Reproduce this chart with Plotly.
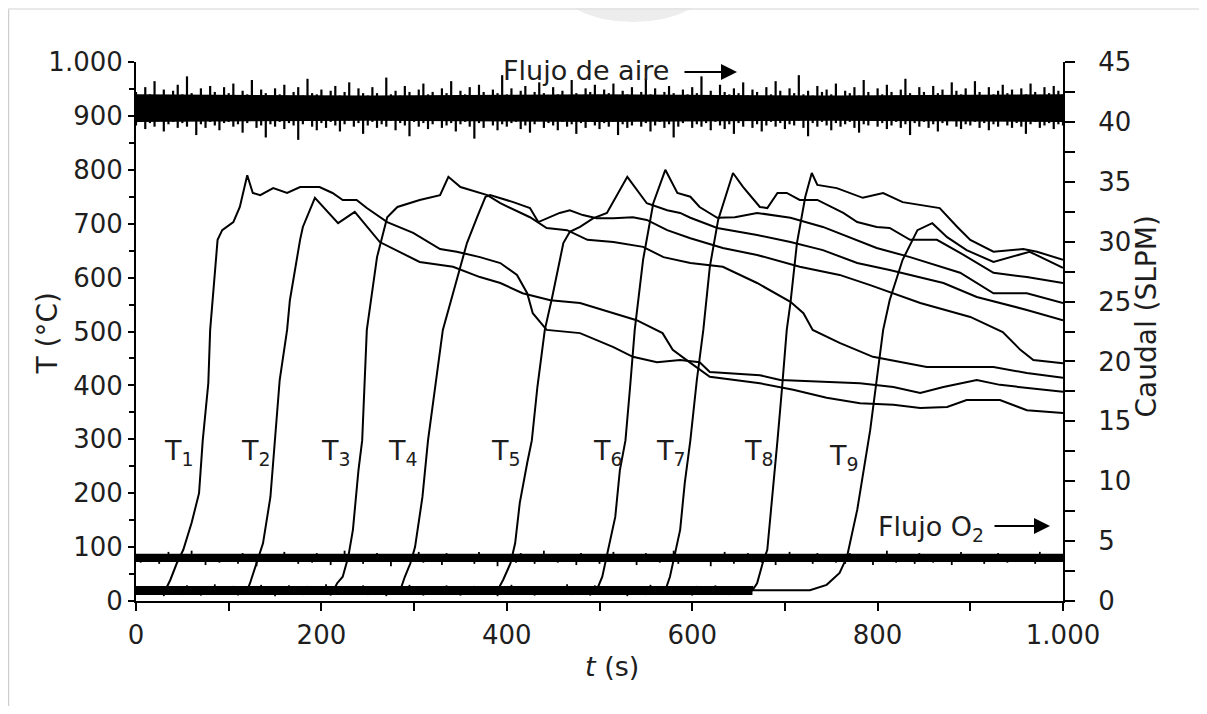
import plotly.graph_objects as go

# ---------------- data ----------------
# temperature curves (t in s, T in degC)
T1_t = [0, 30, 33, 37, 44, 51, 60, 68, 72, 78, 80, 84, 88, 93, 105, 112, 120, 126, 134, 148,
        163, 177, 198, 212, 223, 238, 249, 271, 299, 328, 346, 371, 393, 411, 422, 428, 443, 479, 515, 536,
        562, 587, 608, 619, 673, 695, 745, 781, 817, 846, 871, 907, 932, 1000]
T1_v = [20, 20, 25, 39, 70, 95, 145, 200, 298, 404, 503, 595, 670, 688, 703, 731, 790, 757, 753, 766,
        757, 768, 768, 757, 744, 744, 729, 703, 683, 653, 648, 638, 627, 605, 571, 534, 503, 497, 471, 453,
        443, 447, 443, 425, 419, 410, 406, 404, 397, 386, 397, 410, 401, 388]

T2_t = [0, 120, 123, 130, 137, 145, 150, 155, 163, 166, 177, 180, 193, 218, 236, 263, 306, 342, 371, 393,
        417, 447, 479, 515, 540, 568, 579, 594, 619, 673, 709, 745, 781, 817, 846, 875, 896, 932, 961, 1000]
T2_v = [20, 20, 33, 70, 107, 193, 298, 410, 503, 558, 670, 694, 748, 701, 722, 666, 629, 620, 601, 590,
        571, 558, 553, 534, 521, 497, 466, 447, 416, 404, 392, 377, 367, 364, 358, 360, 373, 373, 354, 349]

T3_t = [0, 213, 217, 223, 229, 234, 240, 244, 249, 260, 271, 282, 306, 328, 337, 350, 379, 393, 425, 443,
        465, 487, 515, 547, 569, 598, 633, 670, 706, 720, 730, 759, 795, 853, 925, 961, 1000]
T3_v = [20, 20, 33, 45, 82, 132, 243, 298, 503, 638, 712, 731, 744, 753, 787, 768, 753, 738, 712, 692,
        688, 670, 666, 657, 638, 627, 620, 590, 555, 534, 503, 479, 453, 434, 434, 423, 414]

T4_t = [0, 285, 290, 296, 301, 309, 315, 323, 327, 331, 342, 357, 368, 377, 382, 407, 425, 434, 457, 468,
        482, 497, 515, 536, 551, 573, 598, 633, 670, 716, 759, 792, 846, 900, 935, 954, 968, 1000]
T4_v = [20, 20, 45, 70, 100, 193, 298, 397, 447, 503, 571, 664, 712, 750, 753, 740, 729, 703, 720, 725,
        716, 710, 710, 712, 707, 688, 673, 655, 642, 620, 605, 586, 553, 527, 499, 466, 447, 441]

T5_t = [0, 390, 396, 404, 409, 414, 422, 427, 433, 441, 449, 461, 468, 479, 493, 508, 530, 551, 573, 587,
        598, 627, 670, 706, 741, 778, 813, 871, 907, 961, 1000]
T5_v = [20, 20, 39, 70, 107, 182, 256, 298, 397, 503, 564, 664, 685, 694, 710, 720, 787, 738, 725, 720,
        711, 692, 679, 666, 651, 627, 614, 590, 564, 540, 521]

T6_t = [0, 497, 503, 509, 517, 522, 528, 533, 538, 547, 558, 571, 584, 598, 608, 627, 646, 670, 706, 741,
        770, 799, 835, 889, 925, 961, 1000]
T6_v = [20, 20, 45, 91, 156, 243, 298, 397, 503, 633, 738, 800, 757, 750, 731, 711, 712, 720, 711, 694,
        675, 655, 638, 609, 571, 571, 553]

T7_t = [0, 571, 576, 581, 587, 592, 598, 605, 612, 619, 628, 644, 655, 673, 681, 692, 702, 716, 735, 763,
        778, 799, 813, 835, 864, 889, 925, 961, 1000]
T7_v = [20, 20, 45, 82, 132, 219, 298, 410, 503, 620, 707, 794, 768, 731, 729, 757, 757, 744, 744, 720,
        703, 694, 692, 670, 670, 646, 609, 601, 590]

T8_t = [0, 665, 670, 676, 681, 686, 692, 697, 702, 706, 713, 722, 729, 735, 756, 784, 806, 827, 867, 886,
        900, 925, 957, 972, 1000]
T8_v = [20, 20, 33, 70, 95, 182, 298, 397, 503, 553, 664, 750, 794, 772, 766, 748, 757, 740, 729, 694,
        670, 648, 653, 648, 633]

T9_t = [0, 727, 745, 759, 767, 778, 792, 806, 813, 827, 843, 859, 875, 896, 925, 943, 964, 1000]
T9_v = [20, 20, 30, 52, 82, 169, 317, 503, 558, 633, 688, 701, 675, 651, 629, 638, 648, 618]

curve_names = ["1", "2", "3", "4", "5", "6", "7", "8", "9"]
label_t = [28, 111, 197, 270, 381, 491, 559, 654, 745]      # left edge of each "T" label
label_T = [312, 312, 312, 312, 312, 312, 312, 312, 303]    # top of each "T" label

# flows (SLPM), readings every 5 s: highest and lowest reading of each 5 s window
flow_t = list(range(0, 1001, 5))
air_top = [42.5, 42.1, 42.9, 42.3, 43.4, 42.2, 42.7, 42.0, 42.6, 43.1,
           42.3, 43.8, 42.4, 42.1, 42.8, 42.2, 43.0, 42.5, 42.0, 42.9,
           42.4, 43.2, 42.1, 42.6, 42.3, 43.5, 42.2, 42.7, 42.4, 42.0,
           42.8, 42.3, 43.1, 42.1, 42.5, 42.9, 42.2, 43.6, 42.4, 42.3,
           42.7, 42.0, 42.6, 43.0, 42.2, 42.5, 43.3, 42.1, 42.8, 42.4,
           42.2, 42.9, 42.4, 42.1, 43.7, 42.3, 42.6, 42.2, 43.0, 42.5,
           42.1, 42.7, 43.2, 42.3, 42.5, 42.0, 42.8, 42.4, 43.4, 42.2,
           42.6, 42.3, 42.9, 42.1, 43.1, 42.5, 42.2, 42.7, 42.4, 43.9,
           42.3, 42.8, 42.1, 42.6, 43.0, 42.2, 42.5, 43.3, 42.4, 42.1,
           42.9, 42.3, 42.6, 42.0, 43.5, 42.4, 42.2, 42.8, 42.5, 43.1,
           42.2, 42.7, 42.4, 43.2, 42.1, 42.6, 42.3, 42.9, 42.0, 42.5,
           43.6, 42.3, 42.8, 42.2, 42.5, 43.0, 42.4, 42.1, 42.7, 42.3,
           42.9, 42.4, 43.8, 42.2, 42.6, 42.1, 43.1, 42.5, 42.3, 42.8,
           42.4, 43.3, 42.2, 42.7, 42.5, 42.0, 42.9, 42.3, 43.4, 42.6,
           42.1, 42.8, 42.4, 43.9, 42.3, 42.6, 42.2, 43.0, 42.5, 42.7,
           42.3, 43.2, 42.1, 42.6, 42.4, 42.9, 42.2, 43.5, 42.5, 42.0,
           42.8, 42.3, 43.1, 42.5, 42.2, 42.7, 43.6, 42.4, 42.1, 42.9,
           42.5, 42.2, 43.0, 42.4, 42.7, 42.1, 43.3, 42.6, 42.3, 42.8,
           42.2, 43.4, 42.5, 42.1, 42.9, 42.3, 42.6, 43.1, 42.4, 42.7,
           42.0, 42.8, 42.3, 43.2, 42.5, 42.2, 42.9, 42.4, 43.0, 42.6,
           42.3]
air_bot = [39.7, 40.0, 39.4, 39.9, 39.6, 40.1, 39.2, 39.8, 40.0, 39.5,
           39.9, 39.6, 40.1, 38.9, 39.8, 39.5, 40.0, 39.7, 39.3, 39.9,
           40.0, 39.6, 39.8, 39.1, 39.9, 40.1, 39.5, 39.7, 38.7, 39.8,
           39.6, 40.0, 39.4, 39.9, 39.7, 38.5, 39.8, 40.1, 39.6, 39.3,
           39.9, 39.5, 40.0, 39.7, 39.2, 39.8, 40.1, 39.6, 39.9, 39.0,
           39.7, 40.0, 39.5, 39.8, 39.6, 40.1, 39.3, 39.9, 39.7, 38.8,
           40.0, 39.6, 39.9, 39.4, 39.8, 40.1, 39.5, 39.7, 39.9, 39.2,
           39.8, 40.0, 39.6, 38.6, 39.9, 39.5, 40.1, 39.7, 39.3, 39.8,
           39.6, 39.9, 40.0, 39.4, 39.7, 39.1, 39.8, 40.1, 39.5, 39.9,
           39.7, 39.3, 40.0, 39.6, 39.8, 39.0, 39.9, 39.5, 40.1, 39.7,
           39.4, 39.9, 39.6, 40.0, 38.9, 39.8, 39.5, 39.7, 40.1, 39.6,
           39.9, 39.2, 39.7, 40.0, 39.5, 39.8, 38.7, 39.6, 39.9, 40.1,
           39.5, 39.8, 39.6, 39.9, 39.3, 40.0, 39.7, 39.4, 39.8, 39.0,
           39.9, 39.6, 40.1, 39.5, 39.8, 39.2, 39.7, 40.0, 39.6, 39.9,
           39.4, 39.8, 39.7, 40.1, 39.5, 38.8, 39.9, 39.6, 40.0, 39.7,
           39.3, 39.9, 39.6, 39.8, 40.0, 39.5, 39.1, 39.8, 39.7, 40.1,
           39.6, 39.9, 39.4, 39.7, 40.0, 39.5, 39.8, 38.9, 39.9, 39.6,
           40.0, 39.5, 39.8, 39.2, 39.9, 39.7, 40.1, 39.6, 39.4, 39.8,
           39.7, 40.0, 39.5, 39.9, 39.3, 39.8, 39.6, 40.1, 39.7, 39.5,
           39.9, 39.6, 39.0, 39.8, 40.0, 39.5, 39.7, 39.9, 39.4, 39.8,
           39.7]
o2_mid = 3.6
o2_flow = [3.7, 3.2, 3.9, 3.4, 3.8, 3.1, 3.6, 4.1, 3.5, 3.3,
           3.9, 3.4, 4.2, 3.5, 3.7, 3.0, 3.8, 3.6, 3.2, 3.9,
           3.5, 3.8, 3.1, 4.0, 3.4, 3.7, 2.9, 3.9, 3.6, 3.3,
           3.8, 3.5, 4.1, 3.4, 3.6, 3.1, 3.9, 3.7, 3.2, 4.0,
           3.4, 3.8, 3.0, 3.7, 3.5, 4.2, 3.3, 3.6, 3.9, 3.1,
           3.7, 3.4, 4.0, 3.5, 3.8, 2.9, 3.6, 3.9, 3.3, 3.7,
           3.5, 4.1, 3.2, 3.8, 3.4, 3.7, 3.0, 4.0, 3.6, 3.3,
           3.9, 3.5, 3.7, 3.1, 4.1, 3.4, 3.8, 3.6, 2.9, 3.9,
           3.4, 3.7, 3.2, 4.0, 3.5, 3.8, 3.1, 3.6, 4.2, 3.4,
           3.8, 3.2, 3.9, 3.5, 3.7, 3.0, 4.0, 3.4, 3.6, 3.8,
           3.1, 3.9, 3.5, 4.1, 3.3, 3.7, 3.4, 3.8, 3.0, 3.6,
           4.0, 3.4, 3.7, 3.2, 3.9, 3.5, 4.2, 3.1, 3.8, 3.6,
           3.3, 3.9, 3.5, 3.7, 2.9, 3.8, 3.4, 4.1, 3.6, 3.1,
           3.7, 3.5, 4.0, 3.4, 3.8, 3.2, 3.6, 3.9, 3.0, 3.7,
           3.5, 4.1, 3.3, 3.8, 3.4, 3.7, 3.1, 4.0, 3.6, 3.4,
           3.9, 3.2, 3.6, 3.1, 4.0, 3.5, 3.8, 3.4, 3.7, 3.0,
           3.8, 3.4, 4.2, 3.6, 3.2, 3.9, 3.5, 3.7, 3.1, 4.0,
           3.4, 3.7, 3.2, 3.9, 3.5, 3.8, 3.0, 3.6, 4.1, 3.3,
           3.7, 3.5, 3.9, 3.1, 3.8, 3.4, 4.0, 3.6, 3.2, 3.8,
           3.5, 3.9, 3.4, 3.7, 3.1, 4.1, 3.5, 3.8, 3.3, 3.6,
           3.7]
# solid core of the noisy flow traces (SLPM)
env_t = [0, 250, 500, 750, 1000]
air_lo = [40.0, 40.1, 40.0, 40.1, 40.0]
air_hi = [42.3, 42.2, 42.3, 42.2, 42.3]
o2_lo = [3.25, 3.25, 3.25, 3.25, 3.25]
o2_hi = [3.95, 3.95, 3.95, 3.95, 3.95]

# noisy thermocouple baselines before ignition (degC), every 5 s
base_t = list(range(0, 666, 5))
base_mid = 19
base_T = [19, 26, 12, 28, 15, 23, 9, 27, 17, 24,
          11, 29, 14, 22, 10, 26, 18, 31, 13, 25,
          16, 28, 10, 23, 19, 27, 12, 30, 15, 21,
          9, 26, 17, 29, 13, 24, 11, 28, 16, 22,
          14, 31, 10, 25, 18, 27, 12, 23, 20, 29,
          11, 26, 15, 24, 9, 28, 17, 22, 13, 30,
          16, 25, 10, 27, 19, 23, 12, 29, 14, 26,
          10, 24, 18, 28, 11, 27, 15, 22, 9, 26,
          17, 30, 13, 25, 16, 28, 10, 23, 19, 27,
          12, 26, 14, 31, 11, 24, 18, 22, 10, 29,
          15, 27, 13, 25, 17, 23, 9, 28, 16, 24,
          11, 30, 14, 26, 18, 22, 12, 27, 15, 25,
          10, 28, 17, 23, 13, 29, 16, 24, 11, 26,
          19, 25, 12, 28]
base_env_t = [0, 665]
base_lo = [11, 11]
base_hi = [28, 28]

x_ticks = [0, 200, 400, 600, 800, 1000]
x_ticktext = ["0", "200", "400", "600", "800", "1.000"]
x_minor = [100, 300, 500, 700, 900]
yl_ticks = list(range(0, 1001, 100))
yl_ticktext = [str(v) for v in yl_ticks[:-1]] + ["1.000"]
yl_minor = list(range(50, 1000, 100))
yr_ticks = list(range(0, 46, 5))
yr_minor = [2.5 + 5 * i for i in range(9)]

# ---------------- geometry helpers ----------------
# the page adds an 8 px body margin, so the figure is drawn 8 px in from the window corner
OFF = 8
W, H = 1207 - 2 * OFF, 714 - 2 * OFF
PL, PR, PT, PB = 136, 1063, 62, 601      # plot area, window pixels


def px(xp):
    return (xp - PL) / (PR - PL)


def py(yp):
    return (PB - yp) / (PB - PT)


FONT = "DejaVu Sans"
INK = "#1e1e1e"

fig = go.Figure()


def band(tt, lo, hi, yax):
    fig.add_trace(go.Scatter(x=tt + tt[::-1], y=hi + lo[::-1], fill="toself",
                             fillcolor="black", mode="lines", line=dict(width=0, color="black"),
                             yaxis=yax, hoverinfo="skip", showlegend=False))


def spikes(tt, lows, highs, yax, w=1.5):
    xs, ys = [], []
    for t, lo, hi in zip(tt, lows, highs):
        xs += [t, t, None]
        ys += [lo, hi, None]
    fig.add_trace(go.Scatter(x=xs, y=ys, mode="lines", line=dict(color="black", width=w),
                             yaxis=yax, hoverinfo="skip", showlegend=False, connectgaps=False))


band(env_t, air_lo, air_hi, "y2")
spikes(flow_t, air_bot, air_top, "y2", w=2.2)
band(env_t, o2_lo, o2_hi, "y2")
spikes(flow_t, [o2_mid] * len(flow_t), o2_flow, "y2", w=1.8)
band(base_env_t, base_lo, base_hi, "y")
spikes(base_t, [base_mid] * len(base_t), base_T, "y", w=1.8)

curves = [(T1_t, T1_v), (T2_t, T2_v), (T3_t, T3_v), (T4_t, T4_v), (T5_t, T5_v),
          (T6_t, T6_v), (T7_t, T7_v), (T8_t, T8_v), (T9_t, T9_v)]
for (tt, vv), nm in zip(curves, curve_names):
    fig.add_trace(go.Scatter(x=tt, y=vv, mode="lines", name="T" + nm,
                             line=dict(color="black", width=2), showlegend=False))

ann = []
for nm, lt, lT in zip(curve_names, label_t, label_T):
    ann.append(dict(x=lt, y=lT, xref="x", yref="y", xanchor="left", yanchor="top",
                    text="T<sub>" + nm + "</sub>", showarrow=False,
                    font=dict(family=FONT, size=27, color=INK)))

# flow labels and arrows
ann.append(dict(x=px(501), y=py(70), xref="paper", yref="paper", xanchor="left", yanchor="middle",
                text="Flujo de aire", showarrow=False, font=dict(family=FONT, size=27, color=INK)))
ann.append(dict(x=px(737), y=py(72), xref="paper", yref="paper", ax=-54, ay=0, text="",
                showarrow=True, arrowhead=2, arrowsize=1.6, arrowwidth=2, arrowcolor="black"))
ann.append(dict(x=px(876), y=py(528), xref="paper", yref="paper", xanchor="left", yanchor="middle",
                text="Flujo O<sub>2</sub>", showarrow=False, font=dict(family=FONT, size=27, color=INK)))
ann.append(dict(x=px(1050), y=py(526), xref="paper", yref="paper", ax=-57, ay=0, text="",
                showarrow=True, arrowhead=2, arrowsize=1.6, arrowwidth=2, arrowcolor="black"))

# axis titles
ann.append(dict(x=px(28), y=py(334), xref="paper", yref="paper", text="T (°C)", textangle=-90,
                showarrow=False, font=dict(family=FONT, size=28, color=INK)))
ann.append(dict(x=px(1164), y=py(317), xref="paper", yref="paper", text="Caudal (SLPM)", textangle=-90,
                showarrow=False, font=dict(family=FONT, size=28, color=INK)))
ann.append(dict(x=px(612), y=py(684), xref="paper", yref="paper", text="<i>t</i> (s)",
                showarrow=False, font=dict(family=FONT, size=27, color=INK)))

shapes = [
    dict(type="circle", xref="paper", yref="paper", x0=px(555), x1=px(711), y0=py(22), y1=py(-60),
         fillcolor="#ededed", line=dict(width=0), layer="below"),
    dict(type="line", xref="paper", yref="paper", x0=px(8.5), x1=px(8.5), y0=py(9), y1=py(714),
         line=dict(color="#cfcfcf", width=1.5)),
    dict(type="line", xref="paper", yref="paper", x0=px(8), x1=px(1207), y0=py(9), y1=py(9),
         line=dict(color="#e2e2e2", width=1.5)),
]

tickfont = dict(family=FONT, size=26, color=INK)

fig.update_layout(
    template="none",
    width=W, height=H,
    margin=dict(l=PL - OFF, r=W - (PR - OFF), t=PT - OFF, b=H - (PB - OFF), pad=0),
    paper_bgcolor="white", plot_bgcolor="white",
    showlegend=False,
    annotations=ann,
    shapes=shapes,
    xaxis=dict(range=[0, 1000], showline=True, linecolor="black", linewidth=2, mirror=False,
               ticks="outside", ticklen=8, tickwidth=2, tickcolor="black",
               tickvals=x_ticks, ticktext=x_ticktext, tickfont=tickfont,
               minor=dict(tickvals=x_minor, ticks="outside", ticklen=8, tickwidth=2, tickcolor="black"),
               showgrid=False, zeroline=False, automargin=False, ticklabelstandoff=2),
    yaxis=dict(range=[0, 1000], showline=True, linecolor="black", linewidth=2,
               ticks="outside", ticklen=6, tickwidth=2, tickcolor="black",
               tickvals=yl_ticks, ticktext=yl_ticktext, tickfont=tickfont,
               minor=dict(tickvals=yl_minor, ticks="outside", ticklen=5, tickwidth=2, tickcolor="black"),
               showgrid=False, zeroline=False, automargin=False, ticklabelstandoff=0),
    yaxis2=dict(range=[0, 45], overlaying="y", side="right", anchor="x",
                showline=True, linecolor="black", linewidth=2,
                ticks="outside", ticklen=10, tickwidth=2, tickcolor="black",
                tickvals=yr_ticks, tickfont=tickfont,
                minor=dict(tickvals=yr_minor, ticks="outside", ticklen=10, tickwidth=2, tickcolor="black"),
                showgrid=False, zeroline=False, automargin=False, ticklabelstandoff=18),
)

fig.write_html("out.html")
